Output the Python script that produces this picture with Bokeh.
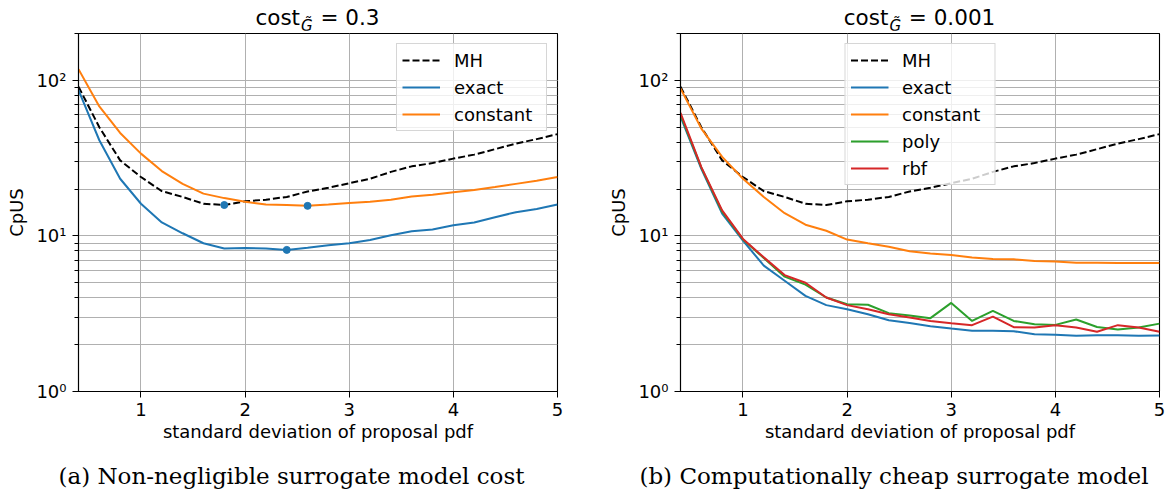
from bokeh.plotting import figure
from bokeh.layouts import row, column
from bokeh.models import (Range1d, FixedTicker, LogTicker, CustomJSTickFormatter,
                          Legend, LegendItem, Div)
from bokeh.embed import file_html
from bokeh.resources import INLINE

# ---------------- data ----------------
sd = [0.4, 0.6, 0.8, 1.0, 1.2, 1.4, 1.6, 1.8, 2.0, 2.2, 2.4, 2.6,
      2.8, 3.0, 3.2, 3.4, 3.6, 3.8, 4.0, 4.2, 4.4, 4.6, 4.8, 5.0]

mh = [91, 50, 30.6, 23.9, 19.4, 17.8, 16.1, 15.8, 16.7, 17.1, 17.8, 19.3,
      20.4, 21.8, 23.3, 25.8, 28.0, 29.4, 31.4, 33.3, 36.1, 39.2, 41.9, 45.1]

exact_a = [86.6, 41.2, 23.3, 16.1, 12.2, 10.4, 8.97, 8.3, 8.35, 8.3, 8.13, 8.4,
           8.7, 8.97, 9.4, 10.1, 10.7, 11.0, 11.7, 12.2, 13.2, 14.2, 14.9, 15.9]
constant_a = [118, 68, 45.9, 33.8, 26.1, 21.6, 18.7, 17.5, 16.6, 15.9, 15.8, 15.6,
              15.9, 16.3, 16.6, 17.1, 17.9, 18.4, 19.1, 19.7, 20.6, 21.6, 22.6, 23.9]

exact_b = [58.4, 27.0, 13.9, 9.33, 6.44, 5.15, 4.12, 3.59, 3.38, 3.14, 2.87, 2.76,
           2.63, 2.54, 2.46, 2.46, 2.44, 2.33, 2.32, 2.28, 2.30, 2.30, 2.28, 2.29]
constant_b = [88.8, 49.0, 32.2, 23.3, 17.8, 14.0, 11.8, 10.8, 9.47, 8.97, 8.53, 7.96,
              7.72, 7.53, 7.27, 7.10, 7.07, 6.90, 6.85, 6.73, 6.73, 6.70, 6.70, 6.70]
poly_b = [60.0, 27.5, 14.3, 9.5, 7.2, 5.47, 4.86, 4.02, 3.64, 3.61, 3.19, 3.08,
          2.96, 3.71, 2.84, 3.30, 2.84, 2.71, 2.68, 2.90, 2.60, 2.50, 2.58, 2.73]
rbf_b = [61.8, 27.7, 14.6, 9.57, 7.28, 5.6, 5.0, 4.02, 3.59, 3.38, 3.14, 2.99,
         2.84, 2.75, 2.67, 3.03, 2.59, 2.58, 2.67, 2.58, 2.42, 2.67, 2.58, 2.42]

x_ticks = [1, 2, 3, 4, 5]
title_values = ["0.3", "0.001"]
captions = ["(a) Non-negligible surrogate model cost",
            "(b) Computationally cheap surrogate model"]
x_label = "standard deviation of proposal pdf"
y_label = "CpUS"

# ---------------- style ----------------
FONT = "DejaVu Sans"
SERIF = "DejaVu Serif"
BLUE, ORANGE, GREEN, RED = "#1f77b4", "#ff7f0e", "#2ca02c", "#d62728"
GRID = "#b0b0b0"
FW, FH = 479, 358
LW = 2.0
DASH = "7 3"
W1, W2 = 600, 567          # figure widths
BL1, BL2 = 78, 80          # left borders
TOP_H, CAP_H = 30, 28      # title / caption strip heights
FIG_H = 433


def make_fig(width, bl):
    p = figure(frame_width=FW, frame_height=FH, min_border_left=bl,
               min_border_right=width - bl - FW, min_border_top=3,
               min_border_bottom=FIG_H - FH - 3,
               y_axis_type="log", x_range=Range1d(0.4, 5), y_range=Range1d(1, 200),
               output_backend="svg", toolbar_location=None)
    p.background_fill_color = "white"
    p.border_fill_color = "white"
    p.outline_line_color = "black"
    p.outline_line_width = 1.1
    p.xaxis.ticker = FixedTicker(ticks=x_ticks, minor_ticks=[])
    p.yaxis.ticker = LogTicker(num_minor_ticks=10)
    p.yaxis.formatter = CustomJSTickFormatter(code="""
        const e = Math.round(Math.log10(tick));
        const sup = {"0":"\\u2070","1":"\\u00b9","2":"\\u00b2","3":"\\u00b3","-":"\\u207b"};
        return "10" + String(e).split("").map(c => sup[c]).join("");
    """)
    for ax in (p.xaxis, p.yaxis):
        ax.axis_line_color = "black"
        ax.axis_line_width = 1.1
        ax.major_tick_line_color = "black"
        ax.minor_tick_line_color = "black"
        ax.major_tick_out = 6
        ax.major_tick_in = 0
        ax.minor_tick_out = 4
        ax.minor_tick_in = 0
        ax.major_label_text_font = FONT
        ax.major_label_text_font_size = "18px"
        ax.major_label_text_color = "black"
        ax.axis_label_text_font = FONT
        ax.axis_label_text_font_size = "18px"
        ax.axis_label_text_font_style = "normal"
        ax.axis_label_text_color = "black"
    p.xaxis.major_label_standoff = 5
    p.yaxis.major_label_standoff = 6
    p.xaxis.axis_label = x_label
    p.xaxis.axis_label_standoff = 2
    p.yaxis.axis_label = y_label
    p.yaxis.axis_label_standoff = 6
    p.xgrid.grid_line_color = GRID
    p.ygrid.grid_line_color = GRID
    p.ygrid.minor_grid_line_color = GRID
    p.xgrid.grid_line_width = 1
    p.ygrid.grid_line_width = 1
    p.ygrid.minor_grid_line_width = 1
    return p


def title_div(width, cx, value):
    html = (f'<div style="margin-left:{cx - 150:.1f}px; width:300px; padding-top:5px; '
            f'text-align:center; white-space:nowrap; font-family:\'{FONT}\'; '
            f'font-size:21.5px; line-height:25px; color:black;">'
            f'cost<span style="font-style:italic; font-size:15px; position:relative; '
            f'top:5.5px; margin-left:1px; margin-right:1px;">G\u0303</span> = {value}</div>')
    return Div(text=html, width=width, height=TOP_H, margin=(0, 0, 0, 0))


def caption_div(width, cx, text):
    html = (f'<div style="margin-left:{cx - 280:.1f}px; width:560px; '
            f'text-align:center; white-space:nowrap; font-family:\'{SERIF}\'; '
            f'font-size:23px; line-height:27px; color:black;">{text}</div>')
    return Div(text=html, width=width, height=CAP_H, margin=(0, 0, 0, 0))


def add_legend(p, items, location):
    lg = Legend(items=[LegendItem(label=l, renderers=[r]) for l, r in items],
                location=location, margin=10, padding=5, spacing=5,
                glyph_width=38, glyph_height=22, label_height=22, label_width=87,
                label_standoff=14, label_text_font=FONT, label_text_font_size="18px",
                label_text_color="black",
                border_line_color="#cccccc", border_line_width=1, border_line_alpha=0.8,
                background_fill_color="white", background_fill_alpha=0.8)
    p.add_layout(lg)


def mark_min(p, ys):
    i = min(range(len(ys)), key=lambda k: ys[k])
    p.scatter([sd[i]], [ys[i]], size=7, color=BLUE, line_color=BLUE)


# ---------------- left panel ----------------
p1 = make_fig(W1, BL1)
r_mh1 = p1.line(sd, mh, line_color="black", line_width=LW, line_dash=DASH)
r_ex1 = p1.line(sd, exact_a, line_color=BLUE, line_width=LW)
r_co1 = p1.line(sd, constant_a, line_color=ORANGE, line_width=LW)
mark_min(p1, mh)
mark_min(p1, exact_a)
mark_min(p1, constant_a)
add_legend(p1, [("MH", r_mh1), ("exact", r_ex1), ("constant", r_co1)], "top_right")

# ---------------- right panel ----------------
p2 = make_fig(W2, BL2)
r_mh2 = p2.line(sd, mh, line_color="black", line_width=LW, line_dash=DASH)
r_ex2 = p2.line(sd, exact_b, line_color=BLUE, line_width=LW)
r_co2 = p2.line(sd, constant_b, line_color=ORANGE, line_width=LW)
r_po2 = p2.line(sd, poly_b, line_color=GREEN, line_width=LW)
r_rb2 = p2.line(sd, rbf_b, line_color=RED, line_width=LW)
add_legend(p2, [("MH", r_mh2), ("exact", r_ex2), ("constant", r_co2),
                ("poly", r_po2), ("rbf", r_rb2)], "top_center")

t1 = title_div(W1, BL1 + FW / 2, title_values[0])
t2 = title_div(W2, BL2 + FW / 2, title_values[1])
c1 = caption_div(W1, 291.5, captions[0])
c2 = caption_div(W2, 894 - W1, captions[1])

layout = column(row(t1, t2, spacing=0), row(p1, p2, spacing=0), row(c1, c2, spacing=0),
                spacing=0)
open("out.html", "w", encoding="utf-8").write(file_html(layout, INLINE))
